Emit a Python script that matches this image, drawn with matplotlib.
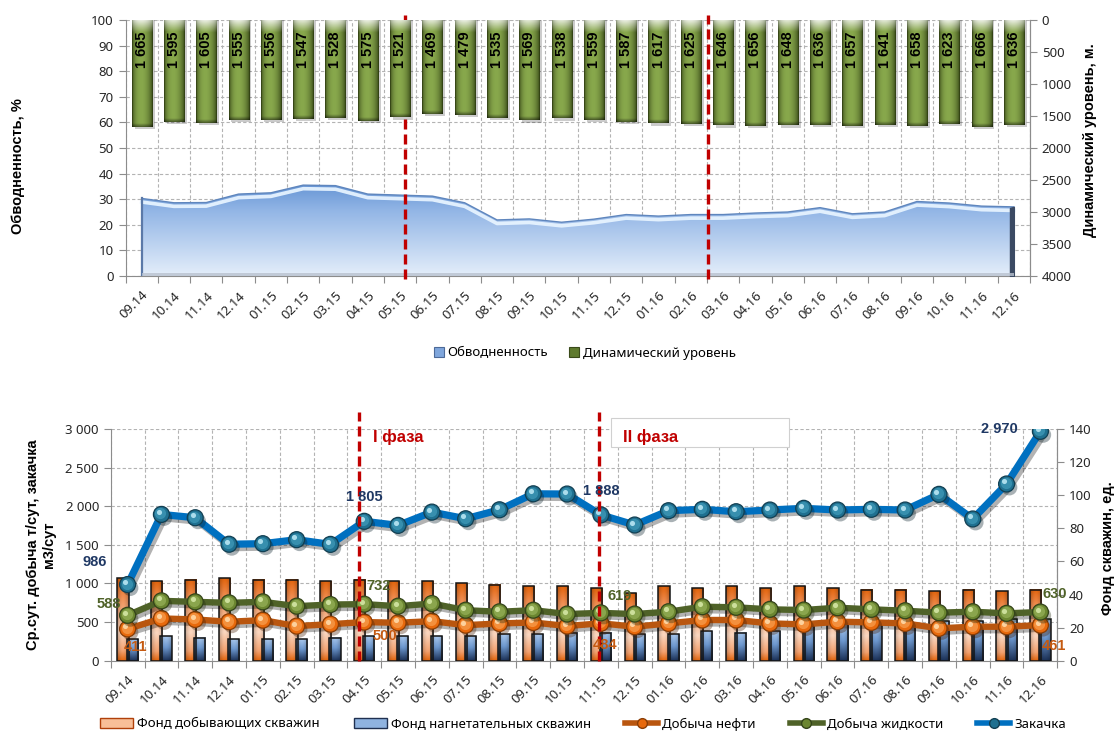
import numpy as np
import matplotlib
matplotlib.use("Agg")
import matplotlib.pyplot as plt
import matplotlib.patheffects as pe
from matplotlib.colors import to_rgb
from matplotlib.transforms import ScaledTranslation
from matplotlib.patches import Patch, Rectangle
from matplotlib.lines import Line2D

plt.rcParams['font.family'] = ['Noto Sans', 'DejaVu Sans']
BOLD = ['Liberation Sans', 'DejaVu Sans']

# ---------------- data ----------------
months = ['09.14', '10.14', '11.14', '12.14', '01.15', '02.15', '03.15', '04.15',
          '05.15', '06.15', '07.15', '08.15', '09.15', '10.15', '11.15', '12.15',
          '01.16', '02.16', '03.16', '04.16', '05.16', '06.16', '07.16', '08.16',
          '09.16', '10.16', '11.16', '12.16']

# dynamic fluid level, m
dyn_level = [1665, 1595, 1605, 1555, 1556, 1547, 1528, 1575, 1521, 1469, 1479, 1535,
             1569, 1538, 1559, 1587, 1617, 1625, 1646, 1656, 1648, 1636, 1657, 1641,
             1658, 1623, 1666, 1636]
# water cut, %
water_cut = [30.3, 28.6, 28.7, 32.0, 32.5, 35.5, 35.3, 32.0, 31.6, 31.2, 28.6, 21.9,
             22.3, 21.0, 22.2, 24.0, 23.4, 24.0, 24.0, 24.6, 25.0, 26.7, 24.3, 25.0,
             29.1, 28.5, 27.3, 27.0]

# daily averages
injection = [986, 1894, 1851, 1508, 1515, 1567, 1506, 1805, 1752, 1924, 1838, 1954,
             2161, 2158, 1888, 1757, 1942, 1960, 1929, 1951, 1973, 1951, 1960, 1951,
             2154, 1835, 2288, 2970]
oil = [411, 547, 534, 504, 525, 448, 473, 500, 491, 512, 460, 482, 495, 449, 484, 440,
       483, 527, 527, 483, 470, 505, 496, 483, 419, 440, 440, 461]
liquid = [588, 775, 762, 749, 762, 706, 727, 732, 706, 740, 654, 633, 654, 604, 619,
          604, 634, 699, 691, 665, 656, 686, 665, 647, 622, 634, 613, 630]

# well stock
prod_wells = [50, 48, 49, 50, 49, 49, 48, 49, 48, 48, 47, 46, 45, 45, 44, 41, 45, 44,
              45, 44, 45, 44, 43, 43, 42, 43, 42, 43]
inj_wells = [13, 15, 14, 13, 13, 13, 14, 15, 15, 15, 15, 16, 16, 17, 17, 16, 16, 18,
             17, 18, 21, 22, 22, 23, 24, 24, 25, 25]

labelled = [0, 7, 14, 27]

# ---------------- helpers ----------------
W, H = 1117, 731
fig = plt.figure(figsize=(W / 100, H / 100), dpi=100)
x = np.arange(len(months))

GRID = dict(color='#b3b3b3', linestyle=(0, (3, 2)), linewidth=0.8)
SPINE = '#8c8c8c'
TXT = '#262626'
RED = '#c00000'
DASH = (0, (3.0, 1.5))


def fmt(v):
    return f"{int(v):,}".replace(',', ' ')


def mix(c1, c2, t):
    c1, c2 = np.array(to_rgb(c1)), np.array(to_rgb(c2))
    return c1 + (c2 - c1) * t


def vstops(stops, n=120):
    pos = np.array([s[0] for s in stops])
    cols = np.array([to_rgb(s[1]) for s in stops])
    u = np.linspace(0, 1, n)
    return np.stack([np.interp(u, pos, cols[:, k]) for k in range(3)], axis=1)


def style_axes(ax):
    ax.spines['top'].set_visible(False)
    for s in ('left', 'right', 'bottom'):
        ax.spines[s].set_color(SPINE)
    ax.tick_params(colors=SPINE, labelcolor=TXT, labelsize=9.5)


def setup_x(ax):
    ax.set_xlim(-0.5, len(months) - 0.5)
    ax.set_xticks(np.arange(-0.5, len(months), 1.0))
    ax.set_xticklabels([])
    ax.set_xticks(x, minor=True)
    ax.set_xticklabels(months, minor=True, rotation=45, ha='right', va='top',
                       rotation_mode='anchor', fontsize=9.5, color=TXT)
    ax.tick_params(axis='x', which='major', length=5, direction='out', color=SPINE)
    ax.tick_params(axis='x', which='minor', length=0, pad=9)


# =============== top chart ===============
axT = fig.add_axes([125.5 / W, 1 - 276 / H, (1030 - 125.5) / W, 256 / H])
style_axes(axT)
setup_x(axT)
axT.set_ylim(0, 100)
axT.set_yticks(range(0, 101, 10))
axT.tick_params(axis='y', length=5)
axT.grid(True, axis='both', which='major', **GRID)
axT.set_axisbelow(True)

# water cut area with vertical gradient
poly = axT.fill_between(x, 0, water_cut, facecolor='none', edgecolor='none')
grad = vstops([(0, '#6594d4'), (0.3, '#93b6e6'), (1, '#e4eefa')])[:, None, :]
im = axT.imshow(grad, extent=(x[0], x[-1], 0, 36), origin='upper', aspect='auto',
                interpolation='bilinear', zorder=2)
im.set_clip_path(poly.get_paths()[0], transform=axT.transData)
wc = np.array(water_cut)
axT.plot(x, wc - 1.4, color='#e6f3ff', lw=2.6, alpha=0.95, zorder=3)
axT.plot(x, wc, color='#5f86bd', lw=1.0, zorder=3)
axT.plot([x[0], x[0]], [0, wc[0]], color='#5b79a8', lw=1.6, zorder=3)
axT.fill_between([x[-1] - 0.12, x[-1]], 0, [wc[-1] - 0.4, wc[-1]], color='#3b4a63', zorder=3)
axT.fill_between(x, 0, 1.0, color='#b9c2cf', alpha=0.8, zorder=3, lw=0)

# dynamic level bars hanging from the top (inverted right axis)
axTR = axT.twinx()
axTR.set_ylim(4000, 0)
axTR.set_yticks(range(0, 4001, 500))
for s in ('top', 'left', 'bottom'):
    axTR.spines[s].set_visible(False)
axTR.spines['right'].set_color(SPINE)
axTR.tick_params(axis='y', colors=SPINE, labelcolor=TXT, labelsize=9.5, length=5)

bw = 0.62
m = 30
t = np.linspace(0, 1, m)
hprof = np.clip(np.sin(np.pi * (t ** 0.85)), 0, 1) ** 0.55
for i, v in enumerate(dyn_level):
    n = 160
    u = np.linspace(0, 1, n)[:, None]
    body = mix('#2c3a10', '#88a84c', hprof[None, :, None])
    body = np.repeat(body, n, axis=0)
    cap = 190.0 / v
    wcap = np.clip(1 - u / cap, 0, 1)[:, :, None]
    capcol = mix('#9aa48c', '#f2f4ee', hprof[None, :, None])
    body = body * (1 - wcap * 0.92) + capcol * (wcap * 0.92)
    bot = np.clip((u - (1 - 55.0 / v)) / (55.0 / v), 0, 1)[:, :, None]
    body = body * (1 - 0.45 * bot)
    axTR.bar(i + 0.09, v + 35, width=bw, color='black', alpha=0.2, zorder=1.5, lw=0)
    axTR.imshow(body, extent=(i - bw / 2, i + bw / 2, v, 0), origin='upper',
                aspect='auto', interpolation='bilinear', zorder=2)
    axTR.text(i, 175, fmt(v), rotation=90, ha='center', va='top', fontsize=10.5,
              fontweight='bold', family=BOLD, color='black', zorder=4)
axTR.set_ylim(4000, 0)
axTR.set_xlim(-0.5, len(months) - 0.5)

for xp in (8.14, 17.52):
    axT.plot([xp, xp], [-1, 102], color=RED, lw=2.4, ls=DASH,
             clip_on=False, zorder=6)

fig.text(18 / W, 1 - 166 / H, 'Обводненность, %', rotation=90, ha='center',
         va='center', fontsize=10.5, fontweight='bold', family=BOLD)
fig.text(1090 / W, 1 - 140 / H, 'Динамический уровень, м.', rotation=90,
         ha='center', va='center', fontsize=10.5, fontweight='bold', family=BOLD)

top_handles = [Patch(facecolor='#7fa6dc', edgecolor='#4d6a98', lw=0.8),
               Patch(facecolor='#5f7a2e', edgecolor='#3a4a1a', lw=0.8)]
fig.legend(top_handles, ['Обводненность', 'Динамический уровень'], loc='center',
           bbox_to_anchor=(585 / W, 1 - 353 / H), ncol=2, frameon=False,
           fontsize=9.5, handlelength=0.7, handleheight=0.7, handletextpad=0.3,
           columnspacing=1.6)

# =============== bottom chart ===============
rectB = [110.7 / W, 1 - 660.7 / H, (1057.3 - 110.7) / W, 231.7 / H]
axB = fig.add_axes(rectB)
style_axes(axB)
setup_x(axB)
axB.set_ylim(0, 3000)
axB.set_yticks(range(0, 3001, 500))
axB.set_yticklabels([fmt(v) for v in range(0, 3001, 500)])
axB.tick_params(axis='y', length=5)
axB.grid(True, axis='both', which='major', **GRID)
axB.set_axisbelow(True)

axBR = axB.twinx()
axBR.set_ylim(0, 140)
axBR.set_yticks(range(0, 141, 20))
for s in ('top', 'left', 'bottom'):
    axBR.spines[s].set_visible(False)
axBR.spines['right'].set_color(SPINE)
axBR.tick_params(axis='y', colors=SPINE, labelcolor=TXT, labelsize=9.5, length=5)

ow = 0.33
og = vstops([(0, '#e2640c'), (0.2, '#ef8a4c'), (0.65, '#fbd7c0'), (0.88, '#f3a270'),
             (1, '#e2640c')])
bg = vstops([(0, '#a9c8ee'), (0.45, '#6d98cf'), (1, '#1a2f55')])
hshade = (0.78 + 0.22 * np.sin(np.pi * np.linspace(0, 1, 12)))[None, :, None]
for i in range(len(months)):
    for val, off, g in ((prod_wells[i], -0.135, og), (inj_wells[i], 0.135, bg)):
        img = g[:, None, :] * hshade
        axBR.imshow(np.clip(img, 0, 1), extent=(i + off - ow / 2, i + off + ow / 2, 0, val),
                    origin='upper', aspect='auto', interpolation='bilinear', zorder=2)
axBR.bar(x - 0.135, prod_wells, width=ow, facecolor='none', edgecolor='#141414',
         lw=1.1, zorder=3)
axBR.bar(x + 0.135, inj_wells, width=ow, facecolor='none', edgecolor='#141414',
         lw=1.1, zorder=3)
axBR.set_xlim(-0.5, len(months) - 0.5)
axBR.set_ylim(0, 140)

axL = axB.twinx()
axL.set_ylim(0, 3000)
axL.set_xlim(-0.5, len(months) - 0.5)
axL.axis('off')


def spheres(ax, xs, ys, base, mid, light, dark, ms=11.5):
    shadow = [pe.SimplePatchShadow(offset=(2, -2.5), alpha=0.35), pe.Normal()]
    ax.plot(xs, ys, ls='none', marker='o', ms=ms, mfc=base, mec=dark, mew=0.9,
            zorder=5, path_effects=shadow)
    t1 = ax.transData + ScaledTranslation(-0.7 / 72, 0.7 / 72, fig.dpi_scale_trans)
    ax.plot(xs, ys, ls='none', marker='o', ms=ms * 0.7, mfc=mid, mec='none',
            alpha=0.8, zorder=5, transform=t1)
    t2 = ax.transData + ScaledTranslation(-1.8 / 72, 1.8 / 72, fig.dpi_scale_trans)
    ax.plot(xs, ys, ls='none', marker='o', ms=ms * 0.32, mfc=light, mec='none',
            alpha=0.9, zorder=5, transform=t2)


line_shadow = [pe.SimpleLineShadow(offset=(2, -2.5), shadow_color='k', alpha=0.3),
               pe.Normal()]
series = [
    (oil, '#b9560f', '#e8690c', '#f69a4a', '#ffd9a8', '#8a3d05', 4.6),
    (liquid, '#4f6228', '#6b8630', '#93ad55', '#d4e6a4', '#34441a', 4.6),
    (injection, '#0070c0', '#1f7090', '#3e98b6', '#b9e6f4', '#123f52', 5.2),
]
for vals, lc, base, mid, light, dark, lw in series:
    axL.plot(x, vals, color=lc, lw=lw, zorder=4, solid_joinstyle='round',
             path_effects=line_shadow)
    spheres(axL, x, vals, base, mid, light, dark)

# value labels (offsets in pixels)
lab_specs = [
    (injection, '#1f3864', [(-33, 23), (0, 24), (0, 24), (-41, 2)]),
    (oil, '#c55a11', [(8, -18), (21, -14), (4, -22), (14, -21)]),
    (liquid, '#4f6228', [(-19, 11), (14, 18), (19, 17), (14, 18)]),
]
for vals, col, offs in lab_specs:
    for k, (dx, dy) in zip(labelled, offs):
        axL.annotate(fmt(vals[k]), (k, vals[k]), xytext=(dx, dy),
                     textcoords='offset pixels', ha='center', va='center',
                     fontsize=10.5, fontweight='bold', family=BOLD, color=col,
                     zorder=7, annotation_clip=False)

for xp in (6.85, 13.95):
    axL.plot([xp, xp], [0, 3220], color=RED, lw=2.4, ls=DASH,
             clip_on=False, zorder=6)

fig.text(373 / W, 1 - 437 / H, 'I фаза', ha='left', va='center', fontsize=12,
         fontweight='bold', family=BOLD, color=RED)
fig.patches.append(Rectangle((610.7 / W, 1 - 447.3 / H), (789.3 - 610.7) / W, 29 / H,
                             transform=fig.transFigure, facecolor='white',
                             edgecolor='#d0d0d0', lw=0.8, zorder=8))
fig.text(623 / W, 1 - 437 / H, 'II фаза', ha='left', va='center', fontsize=12,
         fontweight='bold', family=BOLD, color=RED, zorder=9)

fig.text(41 / W, 1 - 545 / H, 'Ср.сут. добыча т/сут, закачка\nм3/сут', rotation=90,
         ha='center', va='center', fontsize=10.5, fontweight='bold', family=BOLD,
         multialignment='center', linespacing=1.15)
fig.text(1108 / W, 1 - 548 / H, 'Фонд скважин, ед.', rotation=90, ha='center',
         va='center', fontsize=10.5, fontweight='bold', family=BOLD)

bot_handles = [
    Patch(facecolor='#f8bf98', edgecolor='#b0400a', lw=1.0),
    Patch(facecolor='#8fb3e0', edgecolor='#1f3050', lw=1.0),
    Line2D([], [], color='#b9560f', lw=4, marker='o', ms=7, mfc='#e8690c', mec='#8a3d05'),
    Line2D([], [], color='#4f6228', lw=4, marker='o', ms=7, mfc='#6b8630', mec='#34441a'),
    Line2D([], [], color='#0070c0', lw=4, marker='o', ms=7, mfc='#1f7090', mec='#123f52'),
]
fig.legend(bot_handles, ['Фонд добывающих скважин', 'Фонд нагнетательных скважин',
                         'Добыча нефти', 'Добыча жидкости', 'Закачка'],
           loc='center', bbox_to_anchor=(583 / W, 1 - 724 / H), ncol=5, frameon=False,
           fontsize=9.5, handlelength=2.5, handleheight=0.8, handletextpad=0.3,
           columnspacing=2.6)

fig.savefig('out.png', dpi=100, facecolor='white')
